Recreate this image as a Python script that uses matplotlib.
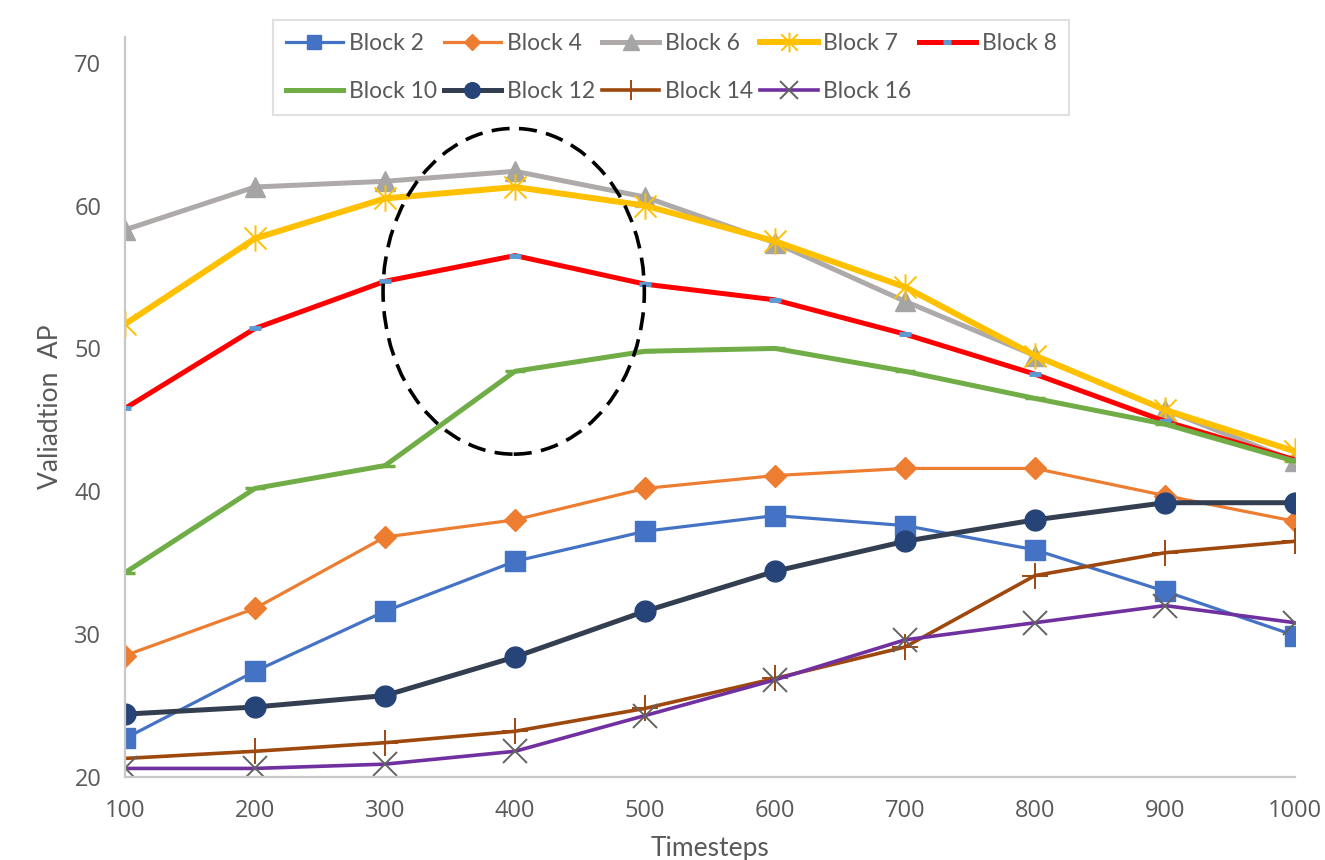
import matplotlib
matplotlib.use("Agg")
import matplotlib.pyplot as plt
from matplotlib.patches import Ellipse
from matplotlib.path import Path

# ---------- data ----------
timesteps = [100, 200, 300, 400, 500, 600, 700, 800, 900, 1000]

block2 = [22.7, 27.4, 31.6, 35.1, 37.2, 38.3, 37.6, 35.9, 33.0, 29.9]
block4 = [28.5, 31.8, 36.8, 38.0, 40.2, 41.1, 41.6, 41.6, 39.7, 37.9]
block6 = [58.3, 61.3, 61.7, 62.4, 60.6, 57.4, 53.3, 49.5, 45.7, 42.1]
block7 = [51.7, 57.7, 60.5, 61.3, 60.0, 57.5, 54.3, 49.5, 45.7, 42.8]
block8 = [45.8, 51.4, 54.7, 56.5, 54.5, 53.4, 51.0, 48.2, 44.9, 42.2]
block10 = [34.3, 40.2, 41.8, 48.4, 49.8, 50.0, 48.4, 46.5, 44.7, 42.1]
block12 = [24.4, 24.9, 25.7, 28.4, 31.6, 34.4, 36.5, 38.0, 39.2, 39.2]
block14 = [21.3, 21.8, 22.4, 23.2, 24.8, 26.9, 29.1, 34.1, 35.7, 36.5]
block16 = [20.6, 20.6, 20.9, 21.8, 24.3, 26.8, 29.6, 30.8, 32.0, 30.8]

# highlighted region (ellipse in data units)
hl_center = (399, 54.0)
hl_width, hl_height = 201, 22.8

# excel-like "star" marker: X plus vertical stroke
star = Path([(-1, -1), (1, 1), (-1, 1), (1, -1), (0, -1.2), (0, 1.2)],
            [Path.MOVETO, Path.LINETO, Path.MOVETO, Path.LINETO, Path.MOVETO, Path.LINETO])

fig = plt.figure(figsize=(13.25, 8.6), dpi=100)
ax = fig.add_axes([125 / 1325, 1 - 777 / 860, 1170 / 1325, 740 / 860])

h = {}
h["Block 2"], = ax.plot(timesteps, block2, color="#4472C4", lw=2.3, marker="s", ms=14,
                        mfc="#4472C4", mec="#4472C4", label="Block 2")
h["Block 4"], = ax.plot(timesteps, block4, color="#ED7D31", lw=2.3, marker="D", ms=11,
                        mfc="#ED7D31", mec="#ED7D31", label="Block 4")
h["Block 6"], = ax.plot(timesteps, block6, color="#AEAAAA", lw=3.6, marker="^", ms=15,
                        mfc="#A5A5A5", mec="#A5A5A5", label="Block 6")
h["Block 7"], = ax.plot(timesteps, block7, color="#FFC000", lw=4.3, marker=star, ms=19,
                        mec="#FFC000", mew=1.4, label="Block 7")
h["Block 8"], = ax.plot(timesteps, block8, color="#FF0000", lw=3.6, marker="_", ms=8.5,
                        mec="#5B9BD5", mew=3.5, label="Block 8")
h["Block 10"], = ax.plot(timesteps, block10, color="#70AD47", lw=3.6, marker="_", ms=14,
                         mec="#70AD47", mew=2.5, label="Block 10")
h["Block 12"], = ax.plot(timesteps, block12, color="#333F50", lw=3.6, marker="o", ms=15,
                         mfc="#264478", mec="#264478", label="Block 12")
h["Block 14"], = ax.plot(timesteps, block14, color="#9E480E", lw=2.6, marker="+", ms=19,
                         mec="#9E480E", mew=1.4, label="Block 14")
h["Block 16"], = ax.plot(timesteps, block16, color="#7030A0", lw=2.6, marker="x", ms=17,
                         mec="#636363", mew=1.4, label="Block 16")

ax.add_patch(Ellipse(hl_center, hl_width, hl_height, fill=False, edgecolor="black",
                     lw=2.6, linestyle=(0, (5, 2.6)), zorder=5))

ax.set_xlim(100, 1000)
ax.set_ylim(20, 71.8)
ax.set_xticks(timesteps)
ax.set_yticks([20, 30, 40, 50, 60, 70])

for s in ["top", "right"]:
    ax.spines[s].set_visible(False)
for s in ["left", "bottom"]:
    ax.spines[s].set_color("#C8C8C8")
    ax.spines[s].set_linewidth(1.6)
ax.tick_params(length=0, labelsize=17, labelcolor="#595959")
for lab in ax.get_xticklabels() + ax.get_yticklabels():
    lab.set_family("Open Sans")
ax.tick_params(axis="y", pad=17)
ax.tick_params(axis="x", pad=16)

ax.set_ylabel("Valiadtion  AP", fontsize=19, color="#595959", family="Lato", labelpad=8)
# reference crops this label at the bottom edge; keep it just inside the canvas
ax.set_xlabel("Timesteps", fontsize=19, color="#595959", family="Lato", labelpad=9)

# legend in row order: fill columns so that rows read like the original
order = ["Block 2", "Block 10", "Block 4", "Block 12", "Block 6", "Block 14",
         "Block 7", "Block 16", "Block 8"]
leg = fig.legend([h[k] for k in order], order, ncol=5, loc="upper left",
                 bbox_to_anchor=(273 / 1325, 1 - 20 / 860), bbox_transform=fig.transFigure,
                 borderaxespad=0, prop={"family": "Lato", "size": 16.5},
                 handlelength=2.5, handletextpad=0.26, columnspacing=0.3,
                 labelspacing=1.2, borderpad=0.55, markerscale=0.75,
                 frameon=True, fancybox=False)
leg.get_frame().set_edgecolor("#D9D9D9")
leg.get_frame().set_linewidth(1.5)
for t in leg.get_texts():
    t.set_color("#595959")

fig.savefig("out.png", dpi=100)
